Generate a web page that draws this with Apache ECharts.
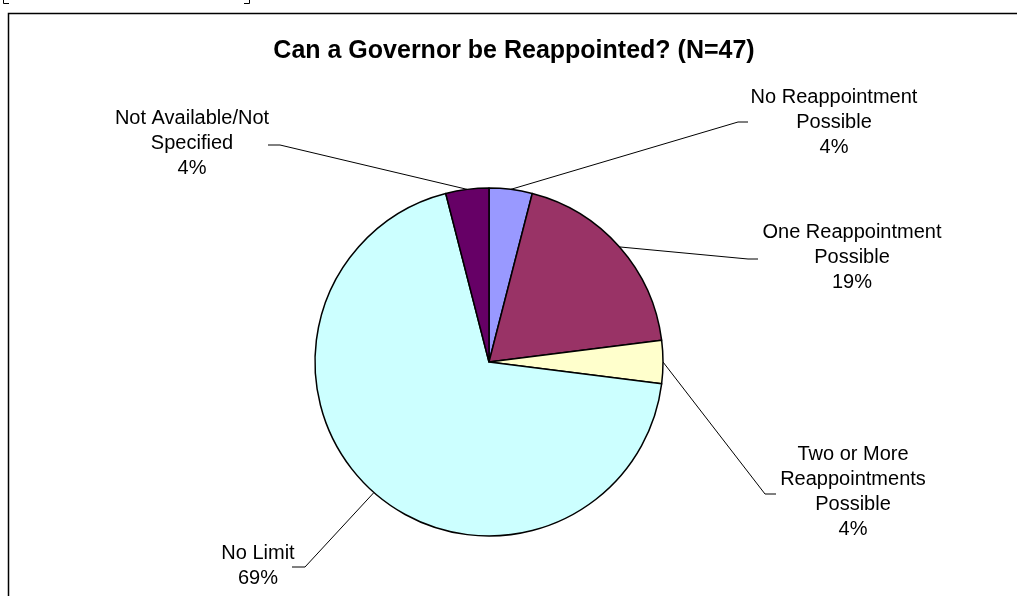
<!DOCTYPE html>
<html>
<head>
<meta charset="utf-8">
<script src="https://cdn.jsdelivr.net/npm/echarts@6/dist/echarts.min.js"></script>
<style>
  html, body { margin: 0; padding: 0; background: #ffffff; }
  #chart { width: 1017px; height: 596px; }
</style>
</head>
<body>
<div id="chart"></div>
<script>
// Governor reappointment rules across 47 cases (percent of total)
const categories = [
  'No Reappointment Possible',
  'One Reappointment Possible',
  'Two or More Reappointments Possible',
  'No Limit',
  'Not Available/Not Specified'
];
const labelText = [
  'No Reappointment\nPossible',
  'One Reappointment\nPossible',
  'Two or More\nReappointments\nPossible',
  'No Limit',
  'Not Available/Not\nSpecified'
];
const percents = [4, 19, 4, 69, 4];
const colors = ['#9999FF', '#993366', '#FFFFCC', '#CCFFFF', '#660066'];

// Where each label block sits, and where its leader line bends / ends
const labelPlacement = [
  { x: 834, y: 122, knee: [738, 122], end: [748, 122] },
  { x: 852, y: 257, knee: [748, 259], end: [758, 259] },
  { x: 853, y: 492, knee: [765, 494], end: [776, 494] },
  { x: 258, y: 566, knee: [305, 567], end: [292, 567] },
  { x: 192, y: 143, knee: [280, 145], end: [268, 145] }
];

const CX = 489, CY = 362, R = 174;
const total = percents.reduce((a, b) => a + b, 0);

// Outer-edge point at the middle angle of slice i (clockwise from 12 o'clock)
function sliceAnchor(i) {
  let before = 0;
  for (let k = 0; k < i; k++) before += percents[k];
  const mid = (before + percents[i] / 2) / total * Math.PI * 2;
  return [CX + R * Math.sin(mid), CY - R * Math.cos(mid)];
}

const chart = echarts.init(document.getElementById('chart'), null, { renderer: 'canvas' });

const data = categories.map((name, i) => ({
  name: name,
  value: percents[i],
  itemStyle: { color: colors[i] },
  label: { formatter: labelText[i] + '\n' + percents[i] + '%' }
}));

chart.setOption({
  animation: false,
  backgroundColor: '#ffffff',
  title: {
    text: 'Can a Governor be Reappointed? (N=47)',
    left: 509,
    top: 31,
    textAlign: 'center',
    textStyle: {
      fontFamily: 'Liberation Sans, Arial, sans-serif',
      fontSize: 25,
      lineHeight: 30,
      fontWeight: 'bold',
      color: '#000000'
    }
  },
  graphic: [
    // chart frame (top and left edges)
    { type: 'polyline', silent: true,
      shape: { points: [[8.5, 596], [8.5, 13.5], [1017, 13.5]] },
      style: { stroke: '#000000', lineWidth: 1.5, fill: null } },
    // bracket fragments above the frame
    { type: 'polyline', silent: true,
      shape: { points: [[3.5, 0], [3.5, 3.5], [9, 3.5]] },
      style: { stroke: '#000000', lineWidth: 1, fill: null } },
    { type: 'polyline', silent: true,
      shape: { points: [[244, 3.5], [249.5, 3.5], [249.5, 0]] },
      style: { stroke: '#000000', lineWidth: 1, fill: null } }
  ],
  series: [{
    type: 'pie',
    center: [CX, CY],
    radius: R,
    startAngle: 90,
    clockwise: true,
    avoidLabelOverlap: false,
    data: data,
    itemStyle: { borderColor: '#000000', borderWidth: 1.5 },
    emphasis: { disabled: true },
    label: {
      show: true,
      position: 'outside',
      fontFamily: 'Liberation Sans, Arial, sans-serif',
      fontSize: 20,
      lineHeight: 25,
      color: '#000000',
      align: 'center'
    },
    labelLine: {
      show: true,
      length: 20,
      length2: 10,
      lineStyle: { color: '#000000', width: 1 }
    },
    labelLayout: function (params) {
      const i = params.dataIndex;
      const p = labelPlacement[i];
      const anchor = sliceAnchor(i);
      return {
        x: p.x,
        y: p.y,
        align: 'center',
        verticalAlign: 'middle',
        labelLinePoints: [anchor, p.knee, p.end]
      };
    }
  }]
});
</script>
</body>
</html>
